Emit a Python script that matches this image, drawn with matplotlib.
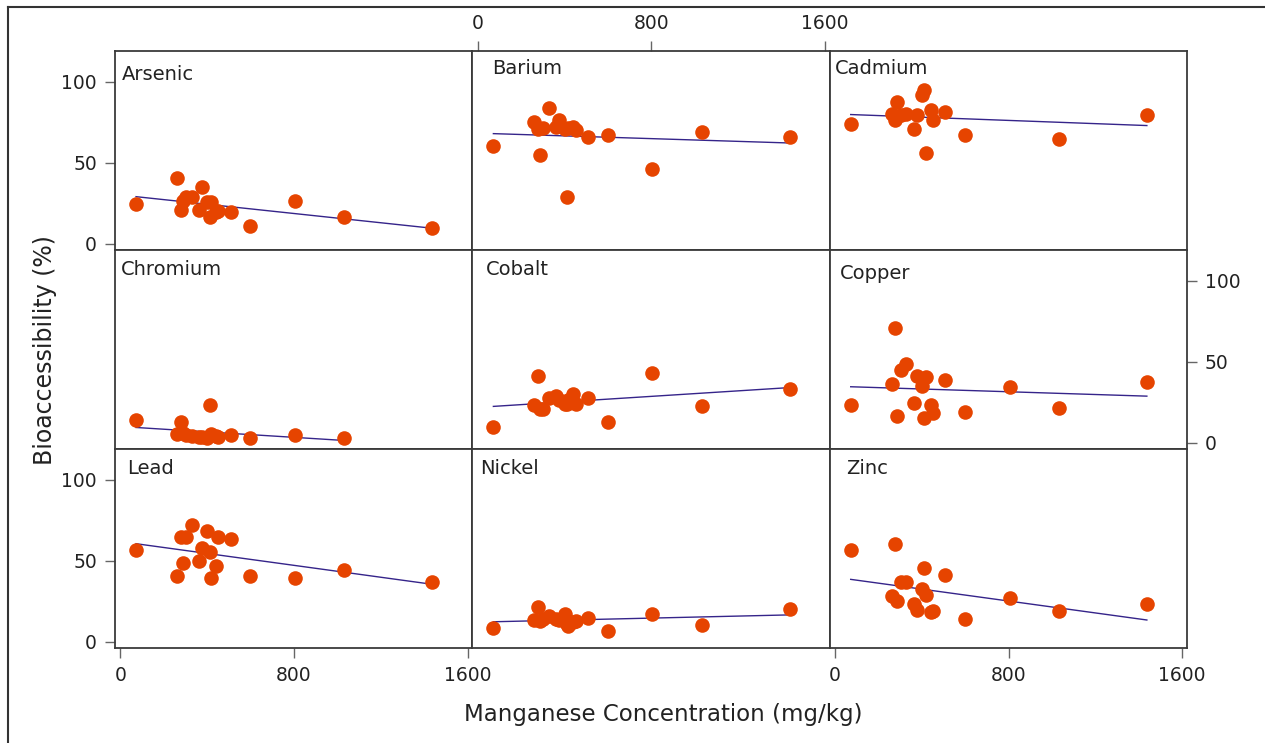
import numpy as np
import matplotlib.pyplot as plt
from matplotlib.lines import Line2D

# Manganese concentration of the samples (mg/kg), shared by every panel
mn = [72, 260, 278, 287, 302, 328, 362, 376, 401, 411, 418, 440, 451, 508, 599, 804, 1032, 1437]

nan = np.nan
# Bioaccessibility (%) per element, same order as mn
arsenic = [24.4, 40.6, 20.9, 26.5, 28.6, 28.6, 20.9, 34.8, 25.9, 16.1, 25.9, 19.3, 20.3, 19.7, 10.6, 26.1, 16.1, 9.3]
barium = [60.0, 75.2, 71.0, 54.9, 71.6, 83.9, 72.0, 76.2, 70.6, 28.6, 71.4, 72.0, 70.0, 65.8, 66.9, 46.2, 68.9, 65.8]
cadmium = [73.7, 80.3, 76.2, 87.6, 79.5, 80.3, 70.6, 79.7, 91.7, 94.8, 55.9, 82.4, 76.2, 81.4, 66.9, nan, 64.8, 79.7]
chromium = [13.8, 5.0, 12.8, 6.0, 4.5, 4.0, 3.5, 3.5, 3.0, 23.3, 5.5, 4.0, 3.5, 4.7, 2.6, 4.7, 2.6, nan]
cobalt = [9.3, 23.3, 41.2, 20.9, 20.9, 27.6, 29.0, 26.4, 23.9, 23.9, 26.0, 30.0, 24.0, 27.6, 12.8, 43.2, 22.5, 33.1]
copper = [23.3, 36.1, 71.0, 16.2, 44.8, 48.7, 24.5, 41.4, 35.1, 15.4, 40.2, 23.3, 18.3, 38.5, 19.1, 34.1, 21.3, 37.5]
lead = [56.4, 40.2, 64.3, 48.5, 64.7, 71.8, 49.8, 58.1, 68.5, 55.4, 39.2, 46.5, 64.3, 63.1, 40.2, 39.0, 44.4, 36.7]
nickel = [8.1, 13.5, 21.6, 12.9, 13.9, 15.6, 13.9, 13.3, 17.0, 10.8, 9.8, 11.8, 12.9, 14.3, 6.2, 17.0, 10.4, 20.1]
zinc = [56.4, 28.4, 60.0, 25.3, 36.7, 36.7, 23.2, 19.7, 32.6, 45.6, 29.0, 18.0, 19.1, 40.9, 13.9, 26.8, 18.7, 23.2]

names = ['Arsenic', 'Barium', 'Cadmium', 'Chromium', 'Cobalt', 'Copper', 'Lead', 'Nickel', 'Zinc']
series = [arsenic, barium, cadmium, chromium, cobalt, copper, lead, nickel, zinc]

x_ticks = [0, 800, 1600]
y_ticks = [0, 50, 100]

# label offsets inside each panel (pixels from top-left)
label_off = [(7, 23), (20, 18), (5, 18), (6, 19), (14, 19), (10, 23), (12, 20), (8, 20), (16, 20)]

plt.rcParams['font.family'] = 'DejaVu Sans'
fig, axes = plt.subplots(3, 3, figsize=(12.65, 7.43), dpi=100, sharex=True, sharey=True)
fig.subplots_adjust(left=115 / 1265, right=1187 / 1265, top=1 - 51 / 743, bottom=1 - 648 / 743,
                    wspace=0, hspace=0)

dot = '#E64400'
fit_col = '#35248A'
spine_col = '#3a3a3a'

for i, ax in enumerate(axes.flat):
    r, c = divmod(i, 3)
    x = np.array(mn, dtype=float)
    y = np.array(series[i], dtype=float)
    ok = ~np.isnan(y)
    ax.plot(x[ok], y[ok], 'o', color=dot, markersize=10.5, markeredgewidth=0, zorder=3)
    k, b = np.polyfit(x[ok], y[ok], 1)
    xs = np.array([x[ok].min(), x[ok].max()])
    ax.plot(xs, k * xs + b, color=fit_col, linewidth=1.0, zorder=2)

    ax.set_xlim(-25, 1622)
    ax.set_ylim(-4, 119)
    ax.set_xticks(x_ticks)
    ax.set_yticks(y_ticks)
    for s in ax.spines.values():
        s.set_color(spine_col)
        s.set_linewidth(1.3)

    dx, dy = label_off[i]
    ax.annotate(names[i], xy=(0, 1), xycoords='axes fraction', xytext=(dx, -dy),
                textcoords='offset pixels', ha='left', va='center', fontsize=14, color='#222222')

    show_left = c == 0 and r in (0, 2)
    show_right = c == 2 and r == 1
    show_top = c == 1 and r == 0
    show_bottom = r == 2 and c in (0, 2)
    ax.tick_params(left=show_left, labelleft=show_left, right=show_right, labelright=show_right,
                   top=show_top, labeltop=show_top, bottom=show_bottom, labelbottom=show_bottom,
                   direction='out', length=7, width=1, color='#666666', labelcolor='#222222',
                   labelsize=13.5, pad=6)

fig.text(45 / 1265, 1 - 350 / 743, 'Bioaccessibility (%)', rotation=90, ha='center', va='center',
         fontsize=17, color='#222222')
fig.text(663 / 1265, 1 - 714 / 743, 'Manganese Concentration (mg/kg)', ha='center', va='center',
         fontsize=16.5, color='#222222')

# outer frame (top and left edges visible)
fig.add_artist(Line2D([8 / 1265, 8 / 1265], [0, 1 - 7 / 743], transform=fig.transFigure,
                      color='#333333', linewidth=1.5))
fig.add_artist(Line2D([8 / 1265, 1], [1 - 7 / 743, 1 - 7 / 743], transform=fig.transFigure,
                      color='#333333', linewidth=1.5))

fig.savefig('out.png', dpi=100)
